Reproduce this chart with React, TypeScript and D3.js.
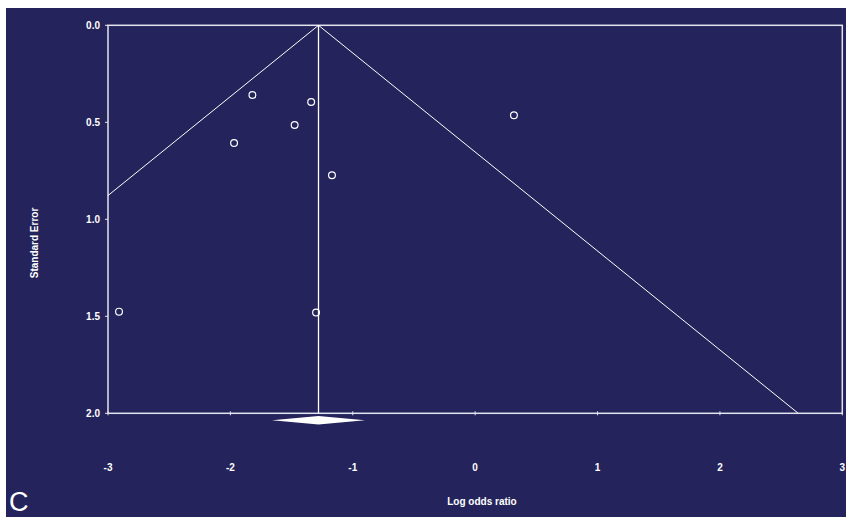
import React from "react";
import * as d3 from "d3";

const studyLogOR = [-1.82, -1.34, -1.475, -1.97, -1.17, 0.317, -2.91, -1.3];
const studySE = [0.359, 0.395, 0.514, 0.607, 0.773, 0.464, 1.476, 1.481];
const pooledLogOR = -1.28;
const pooledLow = -1.66;
const pooledHigh = -0.9;
const xTicks = [-3, -2, -1, 0, 1, 2, 3];
const yTicks = [0, 0.5, 1, 1.5, 2];

const W = 846;
const H = 517;
const BG = "#24235b";

export default function App() {
  const x = d3.scaleLinear().domain([-3, 3]).range([108, 842.3]);
  const y = d3.scaleLinear().domain([0, 2]).range([25.3, 413.3]);
  const seMax = 2;
  const line = d3.line<[number, number]>().x((d) => x(d[0])).y((d) => y(d[1]));
  const funnel: [number, number][] = [
    [pooledLogOR - 1.96 * seMax, seMax],
    [pooledLogOR, 0],
    [pooledLogOR + 1.96 * seMax, seMax],
  ];
  const [x0, x1] = x.range();
  const [y0, y1] = y.range();
  const dy = 4.3;
  const diamond = `M${x(pooledLow)},${y(2) + 7} L${x(pooledLogOR)},${y(2) + 7 - dy} L${x(pooledHigh)},${y(2) + 7} L${x(pooledLogOR)},${y(2) + 7 + dy} Z`;
  const font = "'Liberation Sans Narrow', 'Liberation Sans', Arial, sans-serif";
  return (
    <svg width={W} height={H} style={{ position: "absolute", left: 0, top: 0 }}>
      <rect x={0} y={0} width={W} height={H} fill="#ffffff" />
      <rect x={6} y={8} width={W - 6} height={H - 8} fill={BG} />
      <defs>
        <clipPath id="plotclip">
          <rect x={x0} y={y0} width={x1 - x0} height={y1 - y0} />
        </clipPath>
      </defs>
      <rect x={x0} y={y0} width={x1 - x0} height={y1 - y0} fill="none" stroke="#e4e4ee" strokeWidth={1.5} />
      <g clipPath="url(#plotclip)">
        <path d={line(funnel) || ""} fill="none" stroke="#ffffff" strokeWidth={1} />
      </g>
      <line x1={x(pooledLogOR)} x2={x(pooledLogOR)} y1={y0} y2={y1} stroke="#ffffff" strokeWidth={1.3} />
      {yTicks.map((t) => (
        <g key={"y" + t}>
          <line x1={x0 - 3} x2={x0} y1={y(t)} y2={y(t)} stroke="#e4e4ee" strokeWidth={1} />
          <text x={x0 - 8} y={y(t) + 3.5} fill="#ffffff" fontSize={10} fontWeight="bold" textAnchor="end" fontFamily="'Liberation Sans', Arial, sans-serif">
            {t.toFixed(1)}
          </text>
        </g>
      ))}
      {xTicks.map((t) => (
        <g key={"x" + t}>
          <line x1={x(t)} x2={x(t)} y1={y1 - 2} y2={y1 + 2} stroke="#e4e4ee" strokeWidth={1} />
          <text x={x(t)} y={471} fill="#ffffff" fontSize={10} fontWeight="bold" textAnchor="middle" fontFamily={font}>
            {t}
          </text>
        </g>
      ))}
      <path d={diamond} fill="#ffffff" />
      {studyLogOR.map((v, i) => (
        <circle key={i} cx={x(v)} cy={y(studySE[i])} r={3.4} fill="none" stroke="#ffffff" strokeWidth={1.2} />
      ))}
      <text x={482} y={505} fill="#ffffff" fontSize={10} fontWeight="bold" textAnchor="middle" fontFamily={font}>
        Log odds ratio
      </text>
      <text transform={`translate(38,243) rotate(-90)`} fill="#ffffff" fontSize={10} fontWeight="bold" textAnchor="middle" fontFamily="'Liberation Sans', Arial, sans-serif">
        Standard Error
      </text>
      <text x={9} y={511} fill="#ffffff" fontSize={27} fontFamily="'Liberation Sans', Arial, sans-serif">
        C
      </text>
    </svg>
  );
}
